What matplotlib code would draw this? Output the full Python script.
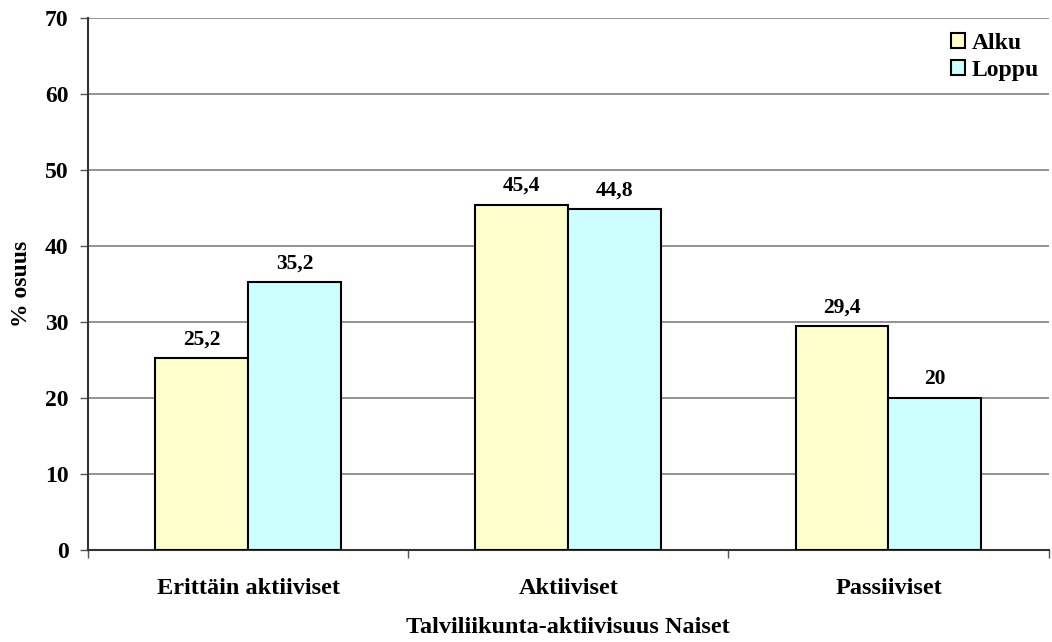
import numpy as np
import matplotlib.pyplot as plt
from matplotlib.ticker import FixedLocator

plt.rcParams['font.family'] = ['Liberation Serif', 'DejaVu Serif']
plt.rcParams['font.weight'] = 'bold'

categories = ['Erittäin aktiiviset', 'Aktiiviset', 'Passiiviset']
alku = [25.2, 45.4, 29.4]
loppu = [35.2, 44.8, 20]
alku_labels = ['25,2', '45,4', '29,4']
loppu_labels = ['35,2', '44,8', '20']

fig = plt.figure(figsize=(10.52, 6.42), dpi=100)
ax = fig.add_axes([0.0837, 0.1433, 0.913, 0.829])

x = np.arange(len(categories))
w = 0.29
b1 = ax.bar(x - w / 2, alku, w, color='#FFFFCC', edgecolor='black', linewidth=1.5, label='Alku', zorder=3)
b2 = ax.bar(x + w / 2, loppu, w, color='#CCFFFF', edgecolor='black', linewidth=1.5, label='Loppu', zorder=3)

for rect, lab in zip(b1, alku_labels):
    ax.text(rect.get_x() + rect.get_width() / 2, rect.get_height() + 1.2, lab,
            ha='center', va='bottom', fontsize=15.5, fontweight='bold')
for rect, lab in zip(b2, loppu_labels):
    ax.text(rect.get_x() + rect.get_width() / 2, rect.get_height() + 1.2, lab,
            ha='center', va='bottom', fontsize=15.5, fontweight='bold')

ax.set_ylim(0, 70)
ax.set_xlim(-0.5, 2.5)
ax.set_yticks(range(0, 71, 10))
ax.yaxis.grid(True, color='#808080', linewidth=1.2, zorder=0)
ax.set_xticks(x)
ax.set_xticklabels(categories, fontsize=17.5, fontweight='bold')
ax.xaxis.set_minor_locator(FixedLocator([-0.5, 0.5, 1.5, 2.5]))
ax.tick_params(axis='x', which='major', length=0, pad=20)
ax.tick_params(axis='x', which='minor', length=6, width=1, color='#555555')
ax.tick_params(axis='y', length=6, width=1, color='#555555', labelsize=17, pad=8)
for lab in ax.get_yticklabels():
    lab.set_fontweight('bold')

ax.spines['top'].set_visible(False)
ax.spines['right'].set_visible(False)
ax.spines['left'].set_color('#333333')
ax.spines['bottom'].set_color('#333333')
ax.spines['left'].set_linewidth(1.5)
ax.spines['bottom'].set_linewidth(1.5)

ax.set_xlabel('Talviliikunta-aktiivisuus Naiset', fontsize=17.5, fontweight='bold', labelpad=13)
ax.set_ylabel('% osuus', fontsize=17, fontweight='bold', labelpad=9)

leg = ax.legend(loc='upper right', bbox_to_anchor=(1.002, 0.993), frameon=False,
                fontsize=17, handlelength=0.6, handleheight=0.6,
                handletextpad=0.25, labelspacing=0.25, borderaxespad=0.2, borderpad=0.3)
for t in leg.get_texts():
    t.set_fontweight('bold')

fig.savefig('out.png', dpi=100)
